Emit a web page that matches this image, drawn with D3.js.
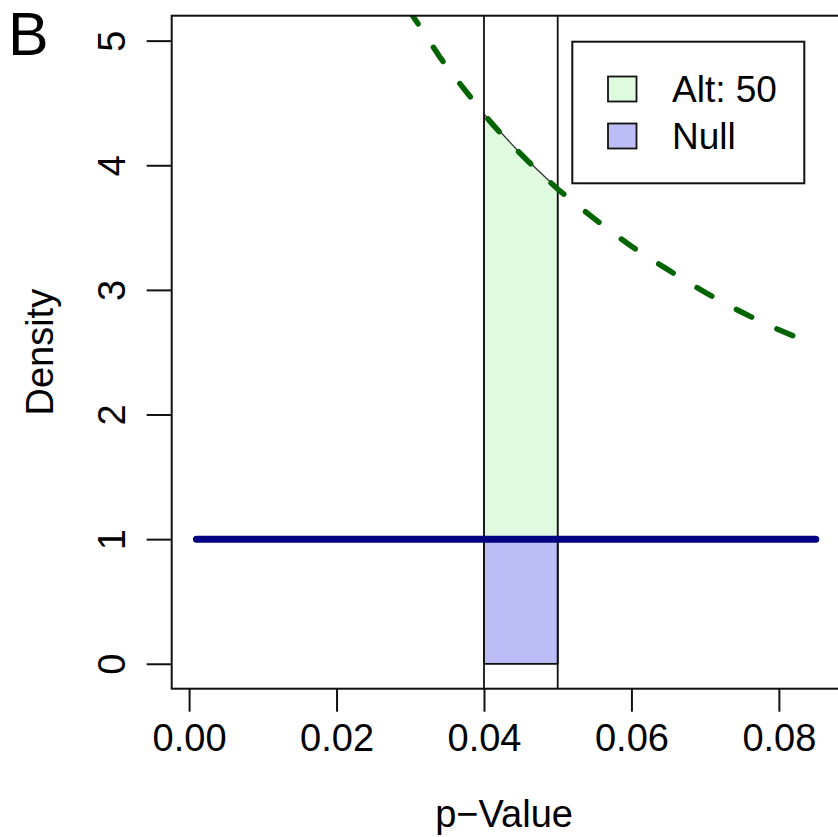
<!DOCTYPE html>
<html>
<head>
<meta charset="utf-8">
<script src="https://cdn.jsdelivr.net/npm/d3@7"></script>
<style>
  html, body { margin: 0; padding: 0; background: #ffffff; }
  svg { display: block; }
  text { font-family: "Liberation Sans", Arial, Helvetica, sans-serif; fill: #000; }
</style>
</head>
<body>
<svg id="chart" width="838" height="837"></svg>
<script>
// ---- data ----
const xTickValues = [0, 0.02, 0.04, 0.06, 0.08];
const xTickLabels = ["0.00", "0.02", "0.04", "0.06", "0.08"];
const yTickValues = [0, 1, 2, 3, 4, 5];
const yTickLabels = ["0", "1", "2", "3", "4", "5"];

// alternative (n = 50) p-value density
const altP       = [0.026, 0.028, 0.030, 0.032, 0.034, 0.036, 0.038, 0.040, 0.045, 0.050, 0.055, 0.060, 0.065, 0.070, 0.075, 0.080, 0.085];
const altDensity = [5.62, 5.42, 5.23, 5.05, 4.87, 4.71, 4.56, 4.41, 4.09, 3.81, 3.57, 3.35, 3.16, 2.98, 2.82, 2.68, 2.56];

// null p-value density (uniform)
const nullP       = [0.001, 0.085];
const nullDensity = [1, 1];

// shaded interval
const bandLo = 0.04, bandHi = 0.05;
const bandAltP = [0.040, 0.045, 0.050];
const bandAltDensity = [4.41, 4.09, 3.81];

const legendLabels = ["Alt: 50", "Null"];
const legendFills = ["#dffbdf", "#bcbcf6"];

const panelLabel = "B";
const xTitle = "p\u2212Value";
const yTitle = "Density";

// ---- layout ----
const svg = d3.select("#chart");
const plotL = 171.7, plotR = 840.5, plotT = 15.7, plotB = 688.7;

const x = d3.scaleLinear().domain([-0.00236, 0.08836]).range([plotL, plotR]);
const y = d3.scaleLinear().domain([-0.2, 5.2]).range([plotB, plotT]);

svg.append("defs").append("clipPath").attr("id", "plotclip")
  .append("rect").attr("x", plotL).attr("y", plotT)
  .attr("width", plotR - plotL).attr("height", plotB - plotT);

const plot = svg.append("g").attr("clip-path", "url(#plotclip)");

// green polygon (alt density over the interval)
const poly = [[bandLo, 0]].concat(bandAltP.map((p, i) => [p, bandAltDensity[i]])).concat([[bandHi, 0]]);
plot.append("path")
  .attr("d", d3.line().x(d => x(d[0])).y(d => y(d[1]))(poly) + "Z")
  .attr("fill", legendFills[0])
  .attr("stroke", "#333")
  .attr("stroke-width", 1.3);

// blue rectangle (null density over the interval)
plot.append("rect")
  .attr("x", x(bandLo)).attr("y", y(1))
  .attr("width", x(bandHi) - x(bandLo)).attr("height", y(0) - y(1))
  .attr("fill", legendFills[1])
  .attr("stroke", "#111")
  .attr("stroke-width", 1.6);

// vertical reference lines
[bandLo, bandHi].forEach(v => {
  plot.append("line")
    .attr("x1", x(v)).attr("x2", x(v))
    .attr("y1", plotT).attr("y2", plotB)
    .attr("stroke", "#111").attr("stroke-width", 1.8);
});

// null line
plot.append("path")
  .datum(nullP.map((p, i) => [p, nullDensity[i]]))
  .attr("d", d3.line().x(d => x(d[0])).y(d => y(d[1])))
  .attr("fill", "none")
  .attr("stroke", "#000080")
  .attr("stroke-width", 7)
  .attr("stroke-linecap", "round");

// alt dashed curve
plot.append("path")
  .datum(altP.map((p, i) => [p, altDensity[i]]))
  .attr("d", d3.line().curve(d3.curveMonotoneX).x(d => x(d[0])).y(d => y(d[1])))
  .attr("fill", "none")
  .attr("stroke", "#006400")
  .attr("stroke-width", 5.5)
  .attr("stroke-linecap", "round")
  .attr("stroke-dasharray", "17,28")
  .attr("stroke-dashoffset", 36);

// frame (right side falls outside the canvas)
svg.append("rect")
  .attr("x", plotL).attr("y", plotT)
  .attr("width", plotR - plotL).attr("height", plotB - plotT)
  .attr("fill", "none").attr("stroke", "#111").attr("stroke-width", 2);

// ---- axes ----
const xAxis = d3.axisBottom(x).tickValues(xTickValues)
  .tickFormat((d, i) => xTickLabels[i]).tickSize(23).tickPadding(12);
const gx = svg.append("g").attr("transform", `translate(0,${plotB})`).call(xAxis);
gx.select(".domain").remove();
gx.selectAll(".tick line").attr("stroke", "#111").attr("stroke-width", 2);
gx.selectAll(".tick text")
  .style("font-family", '"Liberation Sans", Arial, sans-serif')
  .style("font-size", "38px").attr("fill", "#000");

const yAxis = d3.axisLeft(y).tickValues(yTickValues)
  .tickFormat((d, i) => yTickLabels[i]).tickSize(25).tickPadding(0);
const gy = svg.append("g").attr("transform", `translate(${plotL},0)`).call(yAxis);
gy.select(".domain").remove();
gy.selectAll(".tick line").attr("stroke", "#111").attr("stroke-width", 2);
gy.selectAll(".tick text")
  .attr("x", null).attr("dy", null)
  .attr("transform", "translate(-47,0) rotate(-90)")
  .attr("text-anchor", "middle")
  .style("font-family", '"Liberation Sans", Arial, sans-serif')
  .style("font-size", "38px").attr("fill", "#000");

// titles
svg.append("text")
  .attr("x", (plotL + plotR) / 2 - 2).attr("y", 827)
  .attr("text-anchor", "middle").style("font-size", "38px")
  .text(xTitle);

svg.append("text")
  .attr("transform", `translate(53,${(plotT + plotB) / 2}) rotate(-90)`)
  .attr("text-anchor", "middle").style("font-size", "38px")
  .text(yTitle);

svg.append("text")
  .attr("x", 8).attr("y", 55)
  .style("font-size", "61px")
  .text(panelLabel);

// ---- legend ----
const lg = svg.append("g");
lg.append("rect")
  .attr("x", 572.3).attr("y", 41.7).attr("width", 232).attr("height", 141.6)
  .attr("fill", "#fff").attr("stroke", "#111").attr("stroke-width", 2);
const rowY = [89, 136];
legendLabels.forEach((lab, i) => {
  lg.append("rect")
    .attr("x", 608).attr("y", rowY[i] - 12.5).attr("width", 28.5).attr("height", 25)
    .attr("fill", legendFills[i]).attr("stroke", "#111").attr("stroke-width", 1.8);
  lg.append("text")
    .attr("x", 672).attr("y", rowY[i] + 13)
    .style("font-size", "37px")
    .text(lab);
});
</script>
</body>
</html>
